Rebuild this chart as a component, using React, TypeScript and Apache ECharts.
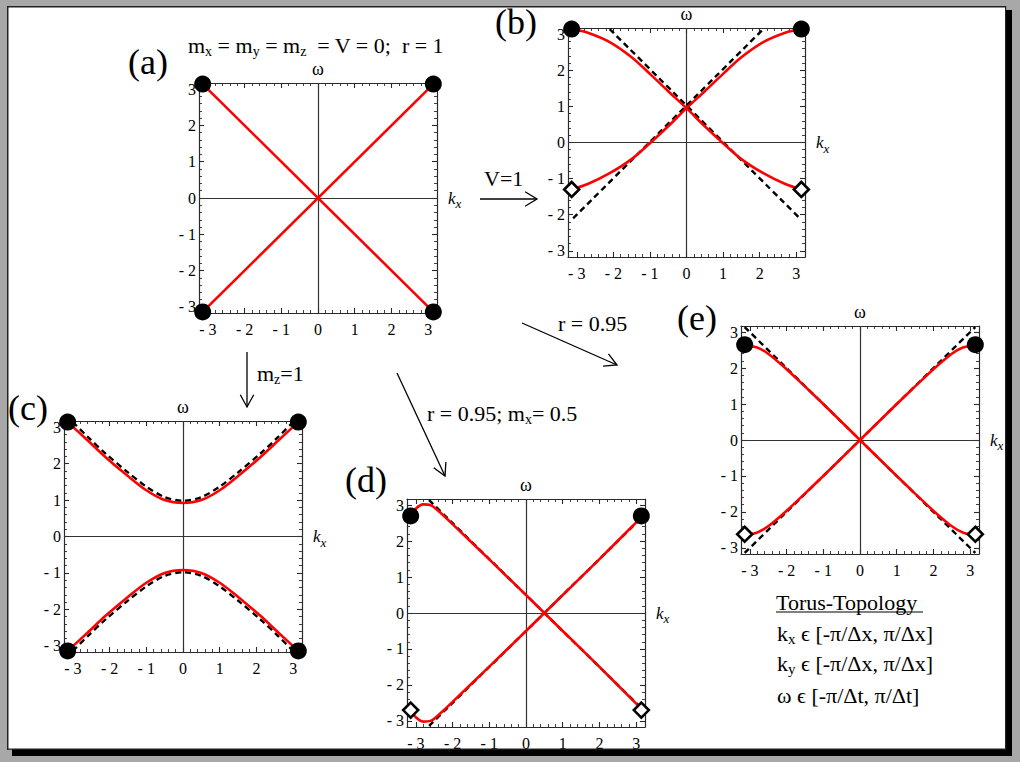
import React, { useEffect, useRef } from "react";
import * as echarts from "echarts";

const FONT = "'Liberation Serif', 'Times New Roman', serif";

// ---- axes (shared by all five panels) ----
const X_MIN = -3.24;
const X_MAX = 3.24;
const Y_MIN = -3.17;
const Y_MAX = 3.17;
const majorTicks = [-3, -2, -1, 0, 1, 2, 3];
const tickLabels = ["- 3", "- 2", "- 1", "0", "1", "2", "3"];
const minorTicks = [
  -2.8, -2.6, -2.4, -2.2, -1.8, -1.6, -1.4, -1.2, -0.8, -0.6, -0.4, -0.2,
  0.2, 0.4, 0.6, 0.8, 1.2, 1.4, 1.6, 1.8, 2.2, 2.4, 2.6, 2.8,
];

// ---- panel (a): mx = my = mz = V = 0, r = 1 ----
const aK = [-3.14, 3.14];
const aRise = [-3.14, 3.14];
const aFall = [3.14, -3.14];
const aDotK = [-3.14, 3.14, -3.14, 3.14];
const aDotW = [3.14, 3.14, -3.14, -3.14];

// ---- panel (b): V = 1 ----
const bK = [-3.14, -2.7, -2.1, -1.5, -1.0, -0.5, 0, 0.5, 1.0, 1.5, 2.1, 2.7, 3.14];
const bRise = [-1.3, -1.15, -0.85, -0.46, -0.02, 0.45, 0.95, 1.42, 1.9, 2.36, 2.78, 3.04, 3.14];
const bFall = [3.14, 3.04, 2.78, 2.36, 1.9, 1.42, 0.95, 0.45, -0.02, -0.46, -0.85, -1.15, -1.3];
const bDashRiseK = [-3.1, 2.1];
const bDashRiseW = [-2.1, 3.14];
const bDashFallK = [-2.1, 3.1];
const bDashFallW = [3.14, -2.1];
const bDotK = [-3.14, 3.14];
const bDotW = [3.14, 3.14];
const bDiaK = [-3.14, 3.14];
const bDiaW = [-1.3, -1.3];

// ---- panel (c): mz = 1 ----
const cK = [-3.14, -2.6, -2.1, -1.5, -1.0, -0.5, 0, 0.5, 1.0, 1.5, 2.1, 2.6, 3.14];
const cUpper = [3.14, 2.64, 2.17, 1.66, 1.27, 1.0, 0.92, 1.0, 1.27, 1.66, 2.17, 2.64, 3.14];
const cLower = [-3.14, -2.64, -2.17, -1.66, -1.27, -1.0, -0.92, -1.0, -1.27, -1.66, -2.17, -2.64, -3.14];
const cDashK = [-3.0, -2.6, -2.1, -1.5, -1.0, -0.5, 0, 0.5, 1.0, 1.5, 2.1, 2.6, 3.0];
const cDashUpper = [3.14, 2.74, 2.27, 1.76, 1.37, 1.08, 0.98, 1.08, 1.37, 1.76, 2.27, 2.74, 3.14];
const cDashLower = [-3.14, -2.74, -2.27, -1.76, -1.37, -1.08, -0.98, -1.08, -1.37, -1.76, -2.27, -2.74, -3.14];
const cDotK = [-3.14, 3.14, -3.14, 3.14];
const cDotW = [3.14, 3.14, -3.14, -3.14];

// ---- panel (d): r = 0.95, mx = 0.5 ----
const dK = [-3.14, -3.0, -2.8, -2.6, -2.3, -2.0, -1.0, 0, 0.5, 1.0, 2.0, 3.0, 3.14];
const dFall = [2.7, 2.9, 3.02, 3.0, 2.76, 2.47, 1.49, 0.5, 0, -0.5, -1.5, -2.52, -2.68];
const dRise = [-2.7, -2.9, -3.02, -3.0, -2.76, -2.47, -1.49, -0.5, 0, 0.5, 1.5, 2.52, 2.68];
const dDashK = [-2.64, 3.14];
const dDashFall = [3.14, -2.64];
const dDashRise = [-3.14, 2.64];
const dDotK = [-3.14, 3.14];
const dDotW = [2.7, 2.7];
const dDiaK = [-3.14, 3.14];
const dDiaW = [-2.7, -2.7];

// ---- panel (e): r = 0.95 ----
const eK = [-3.14, -2.8, -2.5, -2.0, -1.5, -1.0, -0.5, 0, 0.5, 1.0, 1.5, 2.0, 2.5, 2.8, 3.14];
const eRise = [-2.65, -2.57, -2.4, -1.97, -1.49, -1.0, -0.5, 0, 0.5, 1.0, 1.49, 1.97, 2.4, 2.57, 2.65];
const eFall = [2.65, 2.57, 2.4, 1.97, 1.49, 1.0, 0.5, 0, -0.5, -1.0, -1.49, -1.97, -2.4, -2.57, -2.65];
const eDashK = [-3.14, 3.14];
const eDashRise = [-3.14, 3.14];
const eDashFall = [3.14, -3.14];
const eDotK = [-3.14, 3.14];
const eDotW = [2.65, 2.65];
const eDiaK = [-3.14, 3.14];
const eDiaW = [-2.62, -2.62];

type Curve = [number[], number[]];
interface Panel {
  red: Curve[];
  dashed: Curve[];
  dots: Curve;
  diamonds: Curve | null;
}

const panels: Panel[] = [
  { red: [[aK, aRise], [aK, aFall]], dashed: [], dots: [aDotK, aDotW], diamonds: null },
  {
    red: [[bK, bRise], [bK, bFall]],
    dashed: [[bDashRiseK, bDashRiseW], [bDashFallK, bDashFallW]],
    dots: [bDotK, bDotW],
    diamonds: [bDiaK, bDiaW],
  },
  {
    red: [[cK, cUpper], [cK, cLower]],
    dashed: [[cDashK, cDashUpper], [cDashK, cDashLower]],
    dots: [cDotK, cDotW],
    diamonds: null,
  },
  {
    red: [[dK, dFall], [dK, dRise]],
    dashed: [[dDashK, dDashFall], [dDashK, dDashRise]],
    dots: [dDotK, dDotW],
    diamonds: [dDiaK, dDiaW],
  },
  {
    red: [[eK, eRise], [eK, eFall]],
    dashed: [[eDashK, eDashRise], [eDashK, eDashFall]],
    dots: [eDotK, eDotW],
    diamonds: [eDiaK, eDiaW],
  },
];

// grid rectangles in pixels (layout only)
const panelLayout = [
  { left: 199, top: 83, width: 238, height: 230 },
  { left: 568, top: 28, width: 237, height: 229 },
  { left: 64, top: 421, width: 238, height: 231 },
  { left: 407, top: 499, width: 238, height: 228 },
  { left: 741, top: 326, width: 238, height: 228 },
];

const FRAME = "#2a2a2a";

function pairs(xs: number[], ys: number[]) {
  return xs.map((x, i) => [x, ys[i]]);
}

function fmtTick(v: number) {
  const i = majorTicks.indexOf(v);
  return i >= 0 ? tickLabels[i] : "";
}

const kxRich = {
  i: { fontStyle: "italic", fontFamily: FONT, fontSize: 17, lineHeight: 24, color: "#000" },
  s: { fontStyle: "italic", fontFamily: FONT, fontSize: 13, lineHeight: 13, verticalAlign: "bottom", color: "#000" },
};

function axesFor(gi: number, dim: "x" | "y") {
  const isX = dim === "x";
  const c: any = {
    type: "value",
    gridIndex: gi,
    min: isX ? X_MIN : Y_MIN,
    max: isX ? X_MAX : Y_MAX,
    splitLine: { show: false },
  };
  const line = { show: true, onZero: false, lineStyle: { color: FRAME, width: 1.2 } };
  const noLine = { show: false, onZero: false };
  const major = { show: true, inside: true, length: 5, customValues: majorTicks, lineStyle: { color: FRAME, width: 1.1 } };
  const minor = { show: true, inside: true, length: 3, customValues: minorTicks, lineStyle: { color: FRAME, width: 0.9 } };
  const label = {
    show: true,
    customValues: majorTicks,
    formatter: fmtTick,
    margin: isX ? 8 : 3,
    color: "#000",
    fontFamily: FONT,
    fontSize: 16,
  };
  const p1 = isX ? "bottom" : "left";
  const p2 = isX ? "top" : "right";
  const named = isX
    ? { name: "ω", nameLocation: "middle", nameGap: 5, nameTextStyle: { fontFamily: FONT, fontSize: 18, color: "#000" } }
    : {
        name: "{i|k}{s|x}",
        nameLocation: "middle",
        nameRotate: 0,
        nameGap: 11,
        nameTextStyle: { fontFamily: FONT, fontSize: 17, color: "#000", rich: kxRich },
      };
  return [
    { ...c, position: p1, axisLine: line, axisTick: major, axisLabel: label },
    { ...c, position: p2, axisLine: line, axisTick: major, axisLabel: { show: false }, ...named },
    { ...c, position: p1, axisLine: noLine, axisTick: minor, axisLabel: { show: false } },
    { ...c, position: p2, axisLine: noLine, axisTick: minor, axisLabel: { show: false } },
  ];
}

function arrowEls(x1: number, y1: number, x2: number, y2: number, head = 13, spread = 0.5) {
  const a = Math.atan2(y2 - y1, x2 - x1);
  const p1 = [x2 - head * Math.cos(a - spread), y2 - head * Math.sin(a - spread)];
  const p2 = [x2 - head * Math.cos(a + spread), y2 - head * Math.sin(a + spread)];
  return [
    { type: "line", z: 10, shape: { x1, y1, x2, y2 }, style: { stroke: "#000", lineWidth: 1.3 } },
    { type: "polyline", z: 10, shape: { points: [p1, [x2, y2], p2] }, style: { stroke: "#000", lineWidth: 1.3, fill: null } },
  ];
}

function txt(x: number, y: number, text: string, fontSize: number, rich?: any) {
  return {
    type: "text",
    z: 10,
    x,
    y,
    style: {
      text,
      fontFamily: FONT,
      fontSize,
      fill: "#000",
      align: "left",
      verticalAlign: "middle",
      ...(rich ? { rich } : {}),
    },
  };
}

function subRich(size: number, subSize: number, lh: number) {
  return {
    n: { fontFamily: FONT, fontSize: size, lineHeight: lh, fill: "#000" },
    s: { fontFamily: FONT, fontSize: subSize, lineHeight: subSize + 1, verticalAlign: "bottom", fill: "#000" },
  };
}

function buildOption() {
  const xAxis: any[] = [];
  const yAxis: any[] = [];
  const series: any[] = [];
  panels.forEach((p, gi) => {
    xAxis.push(...axesFor(gi, "x"));
    yAxis.push(...axesFor(gi, "y"));
    const base = { xAxisIndex: gi * 4, yAxisIndex: gi * 4, silent: true, animation: false };
    series.push({
      ...base,
      type: "line",
      data: [],
      symbol: "none",
      z: 1,
      markLine: {
        silent: true,
        symbol: ["none", "none"],
        label: { show: false },
        lineStyle: { color: "#333", width: 1.2, type: "solid" },
        z: 1,
        animation: false,
        data: [{ xAxis: 0 }, { yAxis: 0 }],
      },
    });
    p.dashed.forEach(([xs, ys]) =>
      series.push({
        ...base,
        type: "line",
        data: pairs(xs, ys),
        symbol: "none",
        smooth: 0.3,
        lineStyle: { color: "#000", width: 2.4, type: [6, 4] },
        z: 3,
      })
    );
    p.red.forEach(([xs, ys]) =>
      series.push({
        ...base,
        type: "line",
        data: pairs(xs, ys),
        symbol: "none",
        smooth: 0.3,
        lineStyle: { color: "#ff0000", width: 2.6 },
        z: 4,
      })
    );
    series.push({
      ...base,
      type: "scatter",
      data: pairs(p.dots[0], p.dots[1]),
      symbol: "circle",
      symbolSize: 17,
      itemStyle: { color: "#000", opacity: 1 },
      z: 6,
    });
    if (p.diamonds) {
      series.push({
        ...base,
        type: "scatter",
        data: pairs(p.diamonds[0], p.diamonds[1]),
        symbol: "diamond",
        symbolSize: 15,
        itemStyle: { color: "#fff", borderColor: "#000", borderWidth: 2.6, opacity: 1 },
        z: 6,
      });
    }
  });

  const GREY = "#a8a8a8";
  const elements: any[] = [
    // panel letters
    txt(128, 62, "(a)", 36),
    txt(495, 22, "(b)", 36),
    txt(8, 408, "(c)", 36),
    txt(345, 480, "(d)", 36),
    txt(677, 318, "(e)", 36),
    // annotations
    txt(188, 45, "{n|m}{s|x}{n| = m}{s|y}{n| = m}{s|z}{n|  = V = 0;  r = 1}", 22, subRich(22, 14, 26)),
    txt(484, 178, "V=1", 22),
    txt(257, 373, "{n|m}{s|z}{n|=1}", 22, subRich(22, 14, 26)),
    txt(558, 323, "r = 0.95", 22),
    txt(427, 413, "{n|r = 0.95; m}{s|x}{n|= 0.5}", 22, subRich(22, 14, 26)),
    ...arrowEls(480, 199, 537, 199, 14, 0.55),
    ...arrowEls(247, 352, 247, 407, 14, 0.5),
    ...arrowEls(522, 323, 617, 365, 14, 0.5),
    ...arrowEls(397, 373, 445, 476, 14, 0.5),
    // torus block
    txt(776, 602, "Torus-Topology", 22),
    { type: "line", z: 10, shape: { x1: 776, y1: 612, x2: 923, y2: 612 }, style: { stroke: "#000", lineWidth: 1.2 } },
    txt(777, 633, "{n|k}{s|x}{n| ϵ [-π/Δx, π/Δx]}", 22, subRich(22, 15, 26)),
    txt(777, 663, "{n|k}{s|y}{n| ϵ [-π/Δx, π/Δx]}", 22, subRich(22, 15, 26)),
    txt(777, 695, "ω ϵ [-π/Δt, π/Δt]", 22),
    // page surround, shadow and border
    { type: "rect", z: 100, shape: { x: 0, y: 0, width: 1020, height: 6 }, style: { fill: GREY } },
    { type: "rect", z: 100, shape: { x: 0, y: 0, width: 7, height: 762 }, style: { fill: GREY } },
    { type: "rect", z: 100, shape: { x: 1012, y: 0, width: 8, height: 762 }, style: { fill: GREY } },
    { type: "rect", z: 100, shape: { x: 0, y: 756, width: 1020, height: 6 }, style: { fill: GREY } },
    { type: "rect", z: 100, shape: { x: 1006, y: 0, width: 6, height: 10 }, style: { fill: GREY } },
    { type: "rect", z: 100, shape: { x: 0, y: 749, width: 12, height: 7 }, style: { fill: GREY } },
    { type: "rect", z: 100, shape: { x: 1006, y: 10, width: 6, height: 746 }, style: { fill: "#000" } },
    { type: "rect", z: 100, shape: { x: 12, y: 749, width: 1000, height: 7 }, style: { fill: "#000" } },
    { type: "rect", z: 100, shape: { x: 7, y: 6, width: 999, height: 1.5 }, style: { fill: "#222" } },
    { type: "rect", z: 100, shape: { x: 7, y: 6, width: 1.5, height: 744 }, style: { fill: "#222" } },
    { type: "rect", z: 100, shape: { x: 1005, y: 6, width: 1.2, height: 744 }, style: { fill: "#222" } },
    { type: "rect", z: 100, shape: { x: 7, y: 748.5, width: 999, height: 1.2 }, style: { fill: "#222" } },
  ];

  return {
    animation: false,
    backgroundColor: "#ffffff",
    grid: panelLayout.map((g) => ({ ...g, containLabel: false })),
    xAxis,
    yAxis,
    series,
    graphic: { elements },
  };
}

export default function App() {
  const ref = useRef<HTMLDivElement>(null);
  useEffect(() => {
    if (!ref.current) return;
    const chart = echarts.init(ref.current, null, { renderer: "svg" });
    chart.setOption(buildOption() as any);
    return () => chart.dispose();
  }, []);
  return (
    <div
      ref={ref}
      style={{ position: "fixed", left: 0, top: 0, width: 1020, height: 762 }}
    />
  );
}
